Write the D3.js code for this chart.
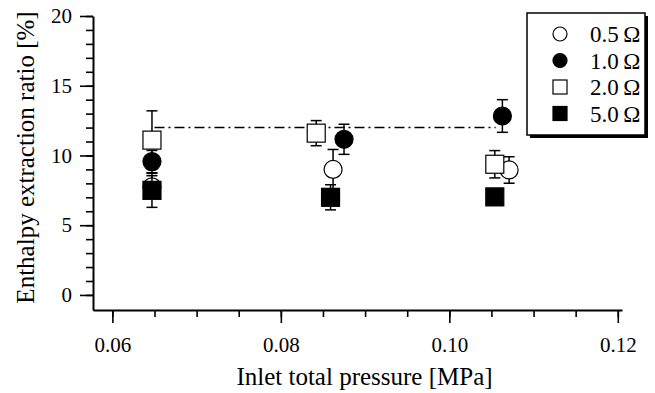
<!DOCTYPE html>
<html>
<head>
<meta charset="utf-8">
<script src="https://cdn.jsdelivr.net/npm/d3@7"></script>
<style>
  body { margin: 0; background: #fff; }
  text { font-family: 'Liberation Serif', 'Times New Roman', serif; fill: #000; }
</style>
</head>
<body>
<div class="chart-container"></div>
<script>
// series, in legend order (draw order too)
const seriesNames = ['0.5 Ω', '1.0 Ω', '2.0 Ω', '5.0 Ω'];
const seriesShapes = ['circle', 'circle', 'square', 'square'];
const seriesFilled = [false, true, false, true];

// inlet total pressure [MPa] for each point
const pressure05 = [0.0647, 0.0862, 0.1071];
const pressure10 = [0.0647, 0.0875, 0.1063];
const pressure20 = [0.0647, 0.0842, 0.1054];
const pressure50 = [0.0647, 0.0859, 0.1054];

// enthalpy extraction ratio [%]
const ratio05 = [7.75, 9.0, 8.96];
const ratio10 = [9.56, 11.16, 12.83];
const ratio20 = [11.1, 11.6, 9.37];
const ratio50 = [7.5, 7.0, 7.03];

// error (+/-)
const error05 = [0.8, 1.43, 0.95];
const error10 = [0.8, 1.08, 1.17];
const error20 = [2.1, 0.9, 0.98];
const error50 = [1.22, 0.9, 0.3];

// dash-dot reference line
const refLineX = [0.065, 0.1055];
const refLineY = 12;

const xTicks = [0.06, 0.08, 0.10, 0.12];
const yTicks = [0, 5, 10, 15, 20];

const pressures = [pressure05, pressure10, pressure20, pressure50];
const ratios = [ratio05, ratio10, ratio20, ratio50];
const errors = [error05, error10, error20, error50];

const series = seriesNames.map((name, i) => ({
  name,
  shape: seriesShapes[i],
  filled: seriesFilled[i],
  points: pressures[i].map((p, j) => ({ x: p, y: ratios[i][j], e: errors[i][j] })),
}));

const W = 655, H = 393;
const margin = { top: 16, right: 33, bottom: 83, left: 93 };
const width = W - margin.left - margin.right;
const height = H - margin.top - margin.bottom;

const x = d3.scaleLinear().domain([0.0577, 0.1205]).range([0, width]);
const y = d3.scaleLinear().domain([-1.08, 20]).range([height, 0]);

const svg = d3.select('.chart-container')
  .append('svg')
  .attr('width', W)
  .attr('height', H)
  .append('g')
  .attr('transform', `translate(${margin.left},${margin.top})`);

// minor ticks first, then major axes with labels
svg.append('g')
  .attr('transform', `translate(0,${height})`)
  .call(d3.axisBottom(x).tickValues(d3.range(0.06, 0.1201, 0.005)).tickSize(7).tickFormat(''))
  .call(g => g.select('.domain').remove())
  .call(g => g.selectAll('line').attr('stroke-width', 1.6));

svg.append('g')
  .call(d3.axisLeft(y).tickValues(d3.range(0, 20.01, 1)).tickSize(7).tickFormat(''))
  .call(g => g.select('.domain').remove())
  .call(g => g.selectAll('line').attr('stroke-width', 1.6));

svg.append('g')
  .attr('class', 'x axis')
  .attr('transform', `translate(0,${height})`)
  .call(d3.axisBottom(x).tickValues(xTicks).tickSize(13).tickSizeOuter(0).tickPadding(14).tickFormat(d3.format('.2f')))
  .call(g => g.select('.domain').attr('stroke-width', 2))
  .call(g => g.selectAll('line').attr('stroke-width', 1.6))
  .call(g => g.selectAll('text').style('font-size', '21px'));

svg.append('g')
  .attr('class', 'y axis')
  .call(d3.axisLeft(y).tickValues(yTicks).tickSize(13).tickSizeOuter(0).tickPadding(8))
  .call(g => g.select('.domain').attr('stroke-width', 2))
  .call(g => g.selectAll('line').attr('stroke-width', 1.6))
  .call(g => g.selectAll('text').style('font-size', '21px'));

// axis titles
svg.append('text')
  .attr('x', 364.5 - margin.left)
  .attr('y', 385 - margin.top)
  .attr('text-anchor', 'middle')
  .style('font-size', '25px')
  .text('Inlet total pressure [MPa]');

svg.append('text')
  .attr('transform', `translate(${25 - margin.left},${157.5 - margin.top}) rotate(-90)`)
  .attr('text-anchor', 'middle')
  .attr('dy', '0.35em')
  .style('font-size', '25px')
  .text('Enthalpy extraction ratio [%]');

// reference line
svg.append('line')
  .attr('x1', x(refLineX[0]))
  .attr('x2', x(refLineX[1]))
  .attr('y1', y(refLineY))
  .attr('y2', y(refLineY))
  .attr('stroke', '#000')
  .attr('stroke-width', 1.5)
  .attr('stroke-dasharray', '10,4,2,4');

const size = 18;
const cap = 5.5;

function drawMarker(g, shape, filled, cx, cy, s) {
  if (shape === 'circle') {
    g.append('circle')
      .attr('cx', cx).attr('cy', cy).attr('r', s / 2)
      .attr('fill', filled ? '#000' : '#fff')
      .attr('stroke', '#000').attr('stroke-width', 1.2);
  } else {
    g.append('rect')
      .attr('x', cx - s / 2).attr('y', cy - s / 2)
      .attr('width', s).attr('height', s)
      .attr('fill', filled ? '#000' : '#fff')
      .attr('stroke', '#000').attr('stroke-width', 1.2);
  }
}

series.forEach((s) => {
  const g = svg.append('g').attr('class', 'series');
  s.points.forEach((d) => {
    const cx = x(d.x);
    const top = y(d.y + d.e), bot = y(d.y - d.e);
    g.append('line').attr('x1', cx).attr('x2', cx).attr('y1', top).attr('y2', bot)
      .attr('stroke', '#000').attr('stroke-width', 1.5);
    [top, bot].forEach((yy) => {
      g.append('line').attr('x1', cx - cap).attr('x2', cx + cap).attr('y1', yy).attr('y2', yy)
        .attr('stroke', '#000').attr('stroke-width', 1.5);
    });
    drawMarker(g, s.shape, s.filled, cx, y(d.y), size);
  });
});

// legend
const legX = 527 - margin.left, legY = 13 - margin.top;
const legW = 118, legH = 122;
const leg = svg.append('g');
leg.append('rect')
  .attr('x', legX + 3).attr('y', legY + 3).attr('width', legW).attr('height', legH)
  .attr('fill', '#000');
leg.append('rect')
  .attr('x', legX).attr('y', legY).attr('width', legW).attr('height', legH)
  .attr('fill', '#fff').attr('stroke', '#000').attr('stroke-width', 1.5);

series.forEach((s, i) => {
  const ry = legY + 21 + i * 26.5;
  drawMarker(leg, s.shape, s.filled, legX + 33, ry, 14);
  leg.append('text')
    .attr('x', legX + 63)
    .attr('y', ry)
    .attr('dy', '0.35em')
    .style('font-size', '23px')
    .text(s.name.replace(' ', '\u2009'));
});
</script>
</body>
</html>
